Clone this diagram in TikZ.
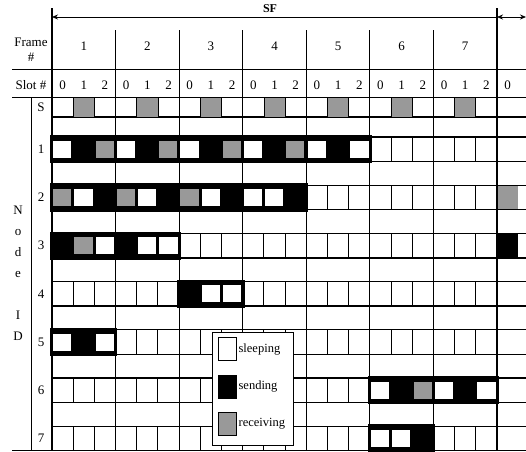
\documentclass[tikz,border=0pt]{standalone}
\usepackage{fontspec}
\setmainfont{Liberation Serif}
\usetikzlibrary{arrows.meta,positioning}

\colorlet{sleep}{white}
\colorlet{send}{black}
\colorlet{recv}{black!40}

\begin{document}
\begin{tikzpicture}[x=1pt, y=-1pt,
        lbl/.style={font=\fontsize{13}{15}\selectfont, inner sep=0pt},
        grid/.style={line width=1pt},
        band/.style={line width=1.3pt},
        arrow/.style={>={Stealth[length=6pt,width=5pt]}, line width=0.8pt},
        key/.style={draw, line width=0.8pt, minimum width=18pt, minimum height=23pt, inner sep=0pt},
        keytext/.style={font=\fontsize{12.5}{14}\selectfont, inner sep=1pt}
    ]
        \useasboundingbox (0,0) rectangle (526,451);
        \fill[white] (0,0) rectangle (526,451);
        % extra slot of the next superframe
        \fill[recv] (497,185.2) rectangle +(21.19,24.5);
        \fill[send] (497,233.4) rectangle +(21.19,24.5);
        % header and frame lines
        \draw[grid] (12,69) -- (526,69);
        \draw[grid] (12,97) -- (526,97);
        \draw[band] (52,117) -- (526,117);
        \draw[grid] (31,97) -- (31,451);
        \draw[grid] (12,450.5) -- (52,450.5);
        \draw[band] (52,8) -- (52,451);
        \draw[band] (497,8) -- (497,451);
        \foreach \f in {1,...,6}
            \draw[grid] ({52+\f*63.57},30) -- ({52+\f*63.57},451);
        \foreach \f in {0,...,6}
            \filldraw[fill=recv, line width=0.8pt] ({52+(3*\f+1)*21.19},97) rectangle +(21.19,20);
        % slot rows of the nodes
        \foreach \r in {1,...,7} {
            \pgfmathsetmacro\yt{137+(\r-1)*48.2}
            \draw[band] (52,\yt) -- (526,\yt) (52,\yt+24.5) -- (526,\yt+24.5);
            \foreach \s in {1,...,20}
                \draw[grid] ({52+\s*21.19},\yt) -- ({52+\s*21.19},\yt+24.5);
        }
        % active periods
        \foreach \r/\a/\st in {
            1/0/{sleep,send,recv,sleep,send,recv,sleep,send,recv,sleep,send,recv,sleep,send,sleep},
            2/0/{recv,sleep,send,recv,sleep,send,recv,sleep,send,sleep,sleep,send},
            3/0/{send,recv,sleep,send,sleep,sleep},
            4/6/{send,sleep,sleep},
            5/0/{sleep,send,sleep},
            6/15/{sleep,send,recv,sleep,send,sleep},
            7/15/{sleep,sleep,send}} {
            \pgfmathsetmacro\yt{137+(\r-1)*48.2}
            \foreach \c [count=\i from 0] in \st {
                \pgfmathsetmacro\xl{52+(\a+\i)*21.19}
                \fill[black] (\xl-1.8,\yt-1.8) rectangle (\xl+22.99,\yt+26.3);
                \fill[\c] (\xl+1.3,\yt+3.8) rectangle (\xl+19.9,\yt+20.8);
            }
        }
        % labels
        \coordinate (sfL) at (52,17);
        \coordinate (sfR) at (497,17);
        \coordinate (nxt) at (526,17);
        \draw[arrow, <-] (sfL) -- (sfR);
        \draw[arrow, <->] (sfR) -- (nxt);
        \node[lbl, font=\bfseries\fontsize{12}{14}\selectfont] (sf) at (270,9) {SF};
        \node[lbl, align=center] (frame) at (31,50) {Frame\\\#};
        \node[lbl] (slot) at (31,85) {Slot \#};
        \foreach \f in {1,...,7}
            \node[lbl] (f\f) at ({52+(\f-0.5)*63.57},46) {\f};
        \foreach \s in {0,...,21} {
            \pgfmathtruncatemacro\d{mod(\s,3)}
            \node[lbl] (s\s) at ({52+(\s+0.5)*21.19},85) {\d};
        }
        \node[lbl] (rS) at (41,107) {S};
        \foreach \r in {1,...,7}
            \node[lbl] (r\r) at (41,{149.25+(\r-1)*48.2}) {\r};
        \node[lbl, align=center, font=\fontsize{13}{21}\selectfont] (nodeid) at (18,273) {N\\o\\d\\e\\[21pt]I\\D};
        % legend
        \node[draw, fill=white, line width=0.8pt, minimum width=81pt, minimum height=113pt, anchor=north west, inner sep=0pt] (legend) at (212,332) {};
        \node[key, fill=sleep] (ksleep) at (227,349) {};
        \node[key, fill=send] (ksend) at (227,386.5) {};
        \node[key, fill=recv] (krecv) at (227,423.5) {};
        \node[keytext, right=1pt of ksleep] (tsleep) {sleeping};
        \node[keytext, right=1pt of ksend] (tsend) {sending};
        \node[keytext, right=1pt of krecv] (trecv) {receiving};
    \end{tikzpicture}
\end{document}
